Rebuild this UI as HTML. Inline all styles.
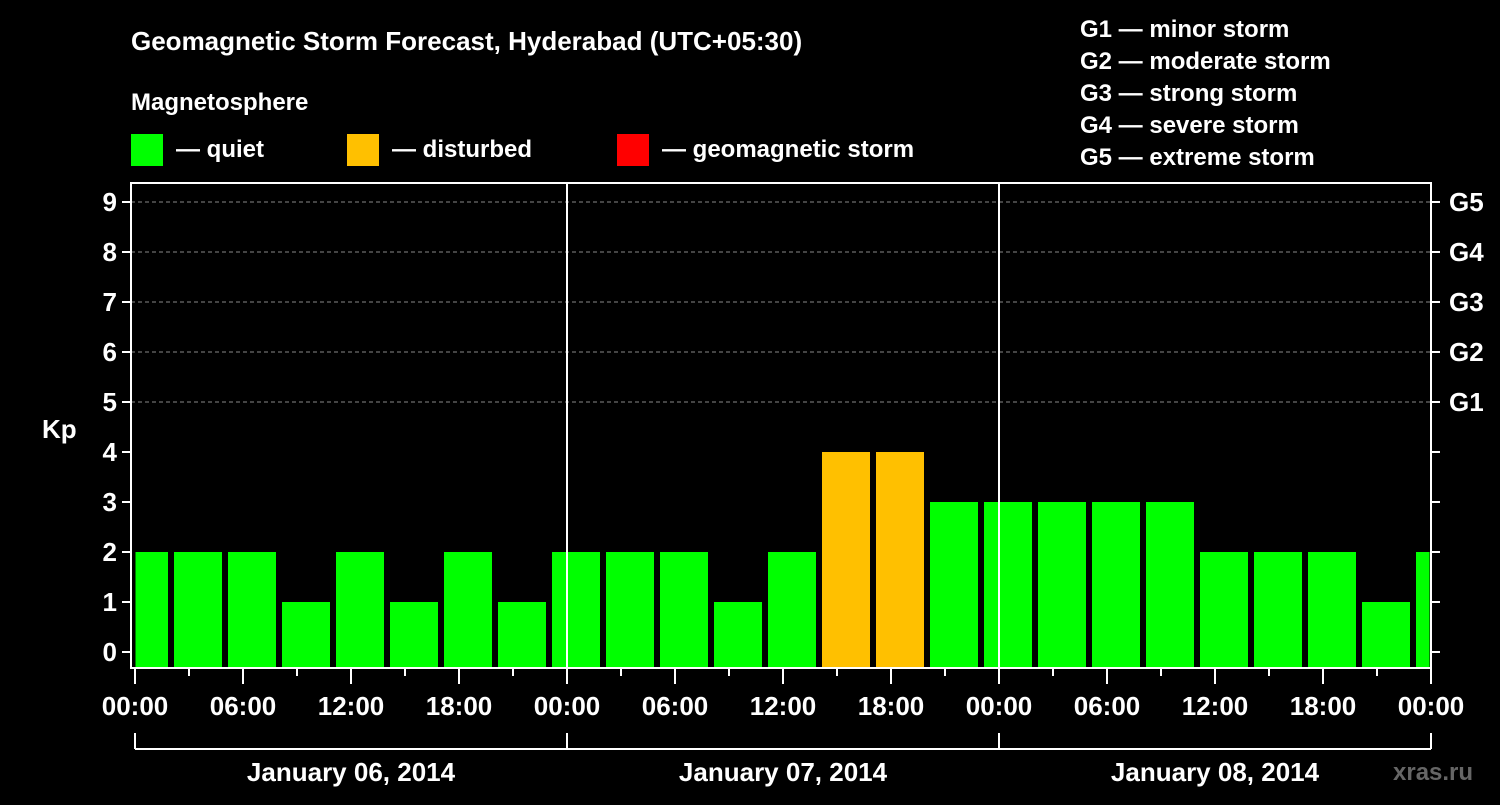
<!DOCTYPE html>
<html><head><meta charset="utf-8"><style>
body{margin:0;background:#000;width:1500px;height:800px;overflow:hidden}
svg text{font-family:"Liberation Sans",sans-serif;font-weight:bold;fill:#fff}
</style></head><body>
<svg id="c" width="1500" height="800" viewBox="0 0 1500 800">
<text x="131" y="50" font-size="26">Geomagnetic Storm Forecast, Hyderabad (UTC+05:30)</text>
<text x="131" y="110" font-size="24">Magnetosphere</text>
<g>
<rect x="131" y="134" width="32" height="32" fill="#00ff00"/>
<text x="176" y="157" font-size="24">— quiet</text>
<rect x="347" y="134" width="32" height="32" fill="#ffc000"/>
<text x="392" y="157" font-size="24">— disturbed</text>
<rect x="617" y="134" width="32" height="32" fill="#ff0000"/>
<text x="662" y="157" font-size="24">— geomagnetic storm</text>
</g>
<g font-size="24">
<text x="1080" y="37">G1 — minor storm</text>
<text x="1080" y="69">G2 — moderate storm</text>
<text x="1080" y="101">G3 — strong storm</text>
<text x="1080" y="133">G4 — severe storm</text>
<text x="1080" y="165">G5 — extreme storm</text>
</g>
<text x="42" y="438" font-size="26">Kp</text>
<text x="1393" y="780" font-size="24" fill="#666" style="fill:#666">xras.ru</text>
<g id="plot"></g>
</svg>
<script>
const kpValues=[2,2,2,1,2,1,2,1,2,2,2,1,2,4,4,3,3,3,3,3,2,2,2,1,2];
const yTicks=[0,1,2,3,4,5,6,7,8,9];
const gLabels=["G1","G2","G3","G4","G5"];
const xTickLabels=["00:00","06:00","12:00","18:00","00:00","06:00","12:00","18:00","00:00","06:00","12:00","18:00","00:00"];
const dayLabels=["January 06, 2014","January 07, 2014","January 08, 2014"];
const firstSlotHour=-1, slotHours=3, totalHours=72;
const NS="http://www.w3.org/2000/svg";
const g=document.getElementById('plot');
const L=131,R=1431,T=183,B=668,X0=135;
const xs=h=>X0+h*((R-X0)/totalHours);
const ys=k=>652-50*k;
function el(t,a,p){const e=document.createElementNS(NS,t);for(const k in a)e.setAttribute(k,a[k]);(p||g).appendChild(e);return e;}
// grid
for(let k=5;k<=9;k++){const e=el('line',{x1:L,x2:R,y1:ys(k),y2:ys(k),stroke:'#888','stroke-dasharray':'4,3','stroke-width':1});

}
// bars
kpValues.forEach((v,i)=>{
 const h0=firstSlotHour+i*slotHours,h1=h0+slotHours;
 let x0=Math.max(xs(h0)+3,L+4.5),x1=Math.min(xs(h1)-3,R-1.5);
 const r=el('rect',{x:x0,y:ys(v),width:x1-x0,height:B-ys(v),fill:v>=5?'#ff0000':(v>=4?'#ffc000':'#00ff00')});
 
 
});
// day separators
for(let d=1;d<3;d++){const e=el('line',{x1:xs(d*24),x2:xs(d*24),y1:T,y2:B,stroke:'#fff','stroke-width':2});

}
// frame
const f=el('rect',{x:L,y:T,width:R-L,height:B-T,fill:'none',stroke:'#fff','stroke-width':2});


// y ticks
yTicks.forEach(k=>{
 el('line',{x1:L-9,x2:L,y1:ys(k),y2:ys(k),stroke:'#fff','stroke-width':2});
 el('line',{x1:R,x2:R+9,y1:ys(k),y2:ys(k),stroke:'#fff','stroke-width':2});
 const t=el('text',{x:L-14,y:ys(k)+9,'font-size':26,'text-anchor':'end'});t.textContent=k;
 
 
});
gLabels.forEach((s,i)=>{const t=el('text',{x:1449,y:ys(5+i)+9,'font-size':26});t.textContent=s;
 
 });
// x ticks
for(let h=0;h<=totalHours;h+=3){const major=h%6===0;
 el('line',{x1:xs(h),x2:xs(h),y1:B,y2:B+(major?16:8),stroke:'#fff','stroke-width':2});}
xTickLabels.forEach((s,i)=>{const t=el('text',{x:xs(i*6),y:715,'font-size':26,'text-anchor':'middle'});t.textContent=s;
 
 });
// day bracket
el('line',{x1:xs(0),x2:xs(72),y1:749,y2:749,stroke:'#fff','stroke-width':2});
for(let d=0;d<=3;d++)el('line',{x1:xs(d*24),x2:xs(d*24),y1:733,y2:749,stroke:'#fff','stroke-width':2});
dayLabels.forEach((s,i)=>{const t=el('text',{x:xs(i*24+12),y:781,'font-size':26,'text-anchor':'middle'});t.textContent=s;
 
 });
</script>
</body></html>
